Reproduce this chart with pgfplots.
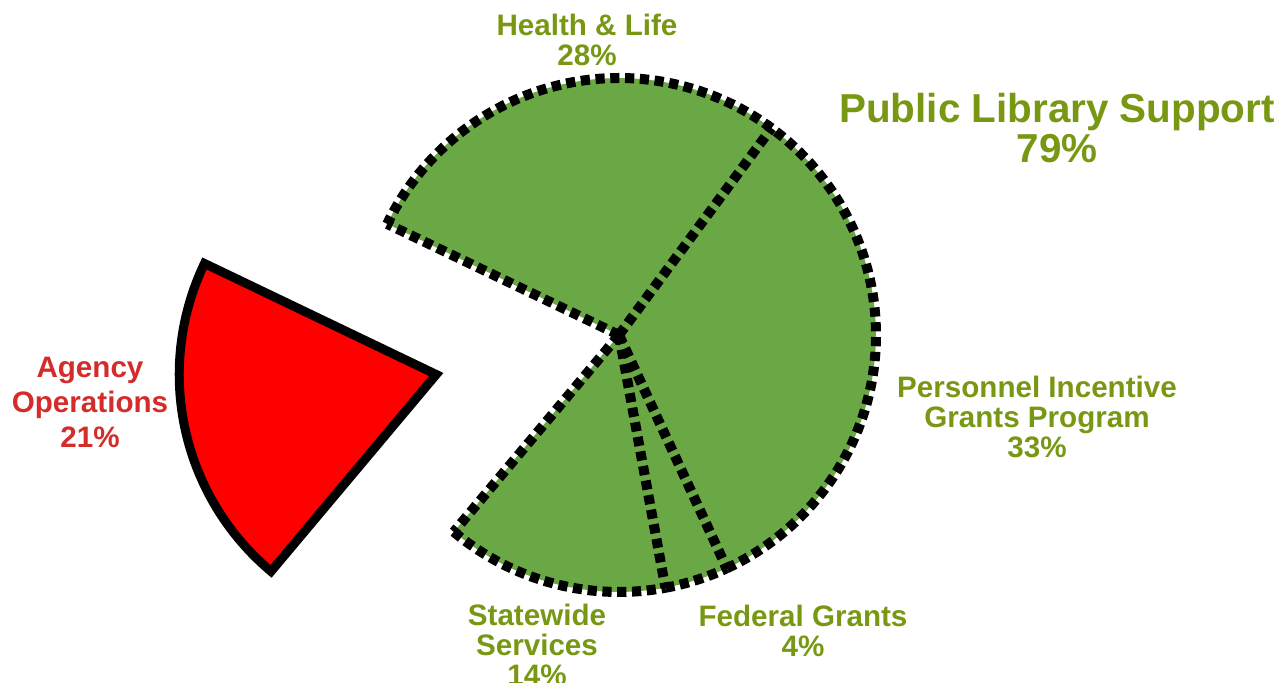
\documentclass[border=0pt]{standalone}
\usepackage{pgfplots}
\pgfplotsset{compat=1.18}
\usepackage{fontspec}
\setmainfont{Liberation Sans}
\definecolor{pgreen}{RGB}{106,168,69}
\definecolor{tgreen}{RGB}{120,152,20}
\definecolor{tred}{RGB}{212,43,43}
% shares (percent)
\def\pHealth{28}
\def\pPersonnel{33}
\def\pFederal{4}
\def\pStatewide{14}
\def\pAgency{21}
% slice boundaries (degrees), clockwise from start
\pgfmathsetmacro\aA{154.4}
\pgfmathsetmacro\aB{\aA-3.6*\pHealth}
\pgfmathsetmacro\aC{\aB-3.6*\pPersonnel}
\pgfmathsetmacro\aD{\aC-3.6*\pFederal}
\pgfmathsetmacro\aE{\aD-3.6*\pStatewide}
\pgfmathsetmacro\aF{\aE-3.6*\pAgency}
\pgfmathsetmacro\aMid{(\aE+\aF)/2}
\def\cx{619}
\def\cy{348}
\def\R{257}
\pgfmathsetmacro\ox{\cx+187*cos(\aMid)}
\pgfmathsetmacro\oy{\cy+187*sin(\aMid)}
\begin{document}
\begin{tikzpicture}
\begin{axis}[hide axis, scale only axis, width=643.5pt, height=341.5pt,
  xmin=0, xmax=1287, ymin=0, ymax=683, clip=false]
\pgfplotsset{gfill/.style={fill=pgreen, draw=none, samples=90},
  gline/.style={draw=black, line width=5pt, dash pattern=on 4.6pt off 2.8pt, line cap=butt, samples=90}}
% fills
\addplot[gfill, domain=\aE:\aA] ({\cx+\R*cos(x)},{\cy+\R*sin(x)}) -- (axis cs:\cx,\cy) -- cycle;
% outer arcs
\addplot[gline, domain=\aB:\aA] ({\cx+\R*cos(x)},{\cy+\R*sin(x)});
\addplot[gline, domain=\aC:\aB] ({\cx+\R*cos(x)},{\cy+\R*sin(x)});
\addplot[gline, domain=\aD:\aC] ({\cx+\R*cos(x)},{\cy+\R*sin(x)});
\addplot[gline, domain=\aE:\aD] ({\cx+\R*cos(x)},{\cy+\R*sin(x)});
% radial edges
\addplot[gline, domain=0:\R, samples=2] ({\cx+x*cos(\aA)},{\cy+x*sin(\aA)});
\addplot[gline, domain=0:\R, samples=2] ({\cx+x*cos(\aB)},{\cy+x*sin(\aB)});
\addplot[gline, domain=0:\R, samples=2] ({\cx+x*cos(\aC)},{\cy+x*sin(\aC)});
\addplot[gline, domain=0:\R, samples=2] ({\cx+x*cos(\aD)},{\cy+x*sin(\aD)});
\addplot[gline, domain=0:\R, samples=2] ({\cx+x*cos(\aE)},{\cy+x*sin(\aE)});
% exploded slice
\addplot[fill=red, draw=black, line width=4.5pt, line join=miter, samples=90, domain=\aF:\aE]
  ({\ox+\R*cos(x)},{\oy+\R*sin(x)}) -- (axis cs:\ox,\oy) -- cycle;
\begin{scope}[every node/.style={align=center, font=\bfseries\fontsize{14.8}{15}\selectfont, text=tgreen}]
\node at (axis cs:587,643) {Health \& Life\\28\%};
\node[font=\bfseries\fontsize{20.2}{20}\selectfont] at (axis cs:1057,555) {Public Library Support\\79\%};
\node at (axis cs:1037,266) {Personnel Incentive\\Grants Program\\33\%};
\node at (axis cs:803,52) {Federal Grants\\4\%};
\node at (axis cs:537,38) {Statewide\\Services\\14\%};
\node[text=tred, font=\bfseries\fontsize{14.8}{17.5}\selectfont] at (axis cs:90,281) {Agency\\Operations\\21\%};
\end{scope}
\end{axis}
\pgfresetboundingbox
\path (current axis.south west) rectangle (current axis.north east);
\end{tikzpicture}
\end{document}
